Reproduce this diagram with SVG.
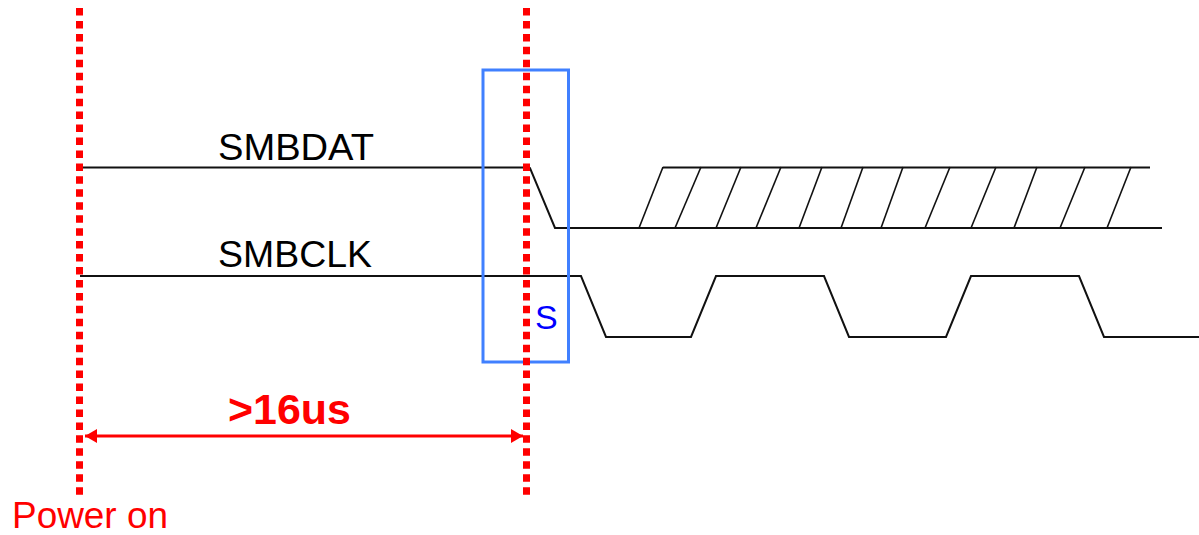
<svg xmlns="http://www.w3.org/2000/svg" width="1199" height="535" viewBox="0 0 1199 535">
  <style>
    .sig { fill: none; stroke: #111; stroke-width: 2; stroke-linejoin: miter; }
    .hatch { fill: none; stroke: #111; stroke-width: 1.6; }
    .marker-line { fill: none; stroke: #ff0000; stroke-width: 7; stroke-dasharray: 7.5 5.45; }
    .lbl { font-family: "Liberation Sans", Arial, sans-serif; fill: #000; font-size: 37px; }
    .red { font-family: "Liberation Sans", Arial, sans-serif; fill: #ff0000; }
  </style>
  <defs>
    <marker id="arrowEnd" viewBox="0 0 12 14" refX="12" refY="7" markerWidth="12" markerHeight="14" markerUnits="userSpaceOnUse" orient="auto">
      <path d="M0,0 L12,7 L0,14 Z" fill="#ff0000"/>
    </marker>
    <marker id="arrowStart" viewBox="0 0 12 14" refX="0" refY="7" markerWidth="12" markerHeight="14" markerUnits="userSpaceOnUse" orient="auto">
      <path d="M12,0 L0,7 L12,14 Z" fill="#ff0000"/>
    </marker>
  </defs>
  <rect width="1199" height="535" fill="#ffffff"/>

  <!-- Signal waveforms -->
  <g id="smbdat">
    <text class="lbl" x="218" y="160" textLength="156" lengthAdjust="spacingAndGlyphs">SMBDAT</text>
    <polyline class="sig" points="80,167.5 528,167.5 530,168 555,228 1162,228"/>
    <polyline class="sig" points="663,167.5 1150,167.5"/>
    <g class="hatch">
      <line x1="639" y1="228" x2="663" y2="167"/>
      <line x1="675" y1="228" x2="701" y2="167"/>
      <line x1="716" y1="228" x2="741" y2="167"/>
      <line x1="756" y1="228" x2="781" y2="167"/>
      <line x1="799" y1="228" x2="822" y2="167"/>
      <line x1="841" y1="228" x2="863" y2="167"/>
      <line x1="881" y1="228" x2="903" y2="167"/>
      <line x1="925" y1="228" x2="950" y2="167"/>
      <line x1="971" y1="228" x2="996" y2="167"/>
      <line x1="1014" y1="228" x2="1037" y2="167"/>
      <line x1="1060" y1="228" x2="1085" y2="167"/>
      <line x1="1107" y1="228" x2="1131" y2="167"/>
    </g>
  </g>

  <g id="smbclk">
    <text class="lbl" x="218" y="266.5" textLength="154" lengthAdjust="spacingAndGlyphs">SMBCLK</text>
    <polyline class="sig" points="80,276 581,276 606,337 691,337 716,276 824,276 849,337 946,337 971,276 1079,276 1104,337 1199,337"/>
  </g>

  <!-- Start condition window -->
  <g id="start-window">
    <rect x="483" y="70" width="85.5" height="292" fill="none" stroke="#4080ff" stroke-width="3"/>
    <text x="535" y="329" font-family="'Liberation Sans', Arial, sans-serif" font-size="34" fill="#0000ff">S</text>
  </g>

  <!-- Timing markers -->
  <g id="power-on">
    <line class="marker-line" x1="79.5" y1="8" x2="79.5" y2="495"/>
    <text class="red" x="12" y="528" font-size="37" textLength="156" lengthAdjust="spacingAndGlyphs">Power on</text>
  </g>
  <g id="start-marker">
    <line class="marker-line" x1="526.5" y1="8" x2="526.5" y2="495"/>
  </g>

  <g id="connectors">
    <line x1="85" y1="436" x2="523" y2="436" stroke="#ff0000" stroke-width="3" marker-start="url(#arrowStart)" marker-end="url(#arrowEnd)"/>
  </g>
  <g id="delay-label">
    <text class="red" x="228" y="424" font-size="42" font-weight="bold" textLength="123" lengthAdjust="spacingAndGlyphs">&gt;16us</text>
  </g>
</svg>
